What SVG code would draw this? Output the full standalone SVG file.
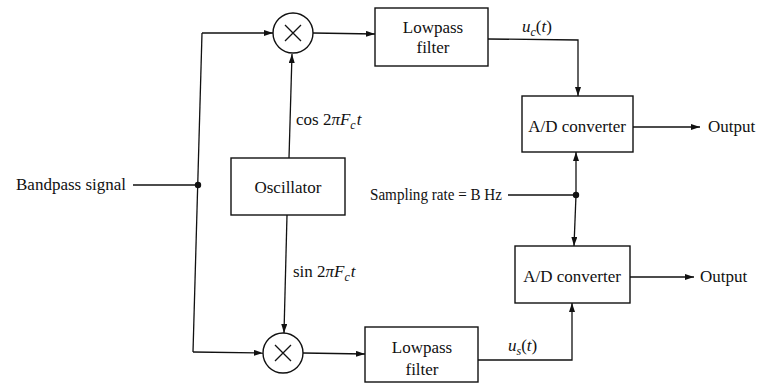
<svg xmlns="http://www.w3.org/2000/svg" width="763" height="387" viewBox="0 0 763 387">
<style>
  .bx{fill:#fff;stroke:#111;stroke-width:1.4}
  .ln{fill:none;stroke:#111;stroke-width:1.3}
  .ar{fill:none;stroke:#111;stroke-width:1.3;marker-end:url(#ah)}
  .t{font-family:"Liberation Serif","Times New Roman",serif;font-size:17px;fill:#111}
  .i{font-style:italic}
  .dot{fill:#111}
</style>
<defs>
  <marker id="ah" markerUnits="userSpaceOnUse" markerWidth="10" markerHeight="8" refX="9" refY="3" orient="auto">
    <path d="M0,0 L9,3 L0,6 z" fill="#111"/>
  </marker>
</defs>
<rect width="763" height="387" fill="#fff"/>

<g id="connectors">
  <line class="ln" x1="133" y1="185" x2="198" y2="185"/>
  <line class="ln" x1="202" y1="33" x2="193" y2="352"/>
  <line class="ar" x1="202" y1="33" x2="273" y2="33"/>
  <line class="ar" x1="193" y1="352" x2="263" y2="353"/>
  <line class="ar" x1="313" y1="33" x2="375" y2="34"/>
  <line class="ar" x1="303" y1="353" x2="365" y2="354"/>
  <line class="ar" x1="289" y1="158" x2="292" y2="54"/>
  <line class="ar" x1="287" y1="215" x2="284" y2="333"/>
  <polyline class="ar" points="488,39 578,40 578,96"/>
  <polyline class="ar" points="478,360 572,360 572,303"/>
  <line class="ar" x1="633" y1="127" x2="700" y2="127"/>
  <line class="ar" x1="630" y1="277" x2="694" y2="277"/>
  <line class="ln" x1="508" y1="195" x2="576" y2="195"/>
  <line class="ar" x1="576" y1="195" x2="576" y2="152"/>
  <line class="ar" x1="576" y1="195" x2="574" y2="246"/>
  <circle class="dot" cx="198" cy="185" r="3.2"/>
  <circle class="dot" cx="576" cy="195" r="3.2"/>
  <text class="t" x="296" y="125">cos 2<tspan class="i">πF</tspan><tspan class="i" font-size="12" dy="4">c</tspan><tspan class="i" dy="-4" dx="1">t</tspan></text>
  <text class="t" x="293" y="277">sin 2<tspan class="i">πF</tspan><tspan class="i" font-size="12" dy="4">c</tspan><tspan class="i" dy="-4" dx="1">t</tspan></text>
  <text class="t" x="522" y="32"><tspan class="i">u</tspan><tspan class="i" font-size="12" dy="4">c</tspan><tspan dy="-4">(</tspan><tspan class="i">t</tspan>)</text>
  <text class="t" x="508" y="351"><tspan class="i">u</tspan><tspan class="i" font-size="12" dy="4">s</tspan><tspan dy="-4">(</tspan><tspan class="i">t</tspan>)</text>
</g>

<g id="input">
  <text class="t" x="16" y="190">Bandpass signal</text>
</g>

<g id="mixer-top">
  <circle class="bx" cx="293" cy="33" r="20"/>
  <path class="ln" d="M285,25 L301,41 M301,25 L285,41"/>
</g>

<g id="mixer-bottom">
  <circle class="bx" cx="283" cy="353" r="20"/>
  <path class="ln" d="M275,345 L291,361 M291,345 L275,361"/>
</g>

<g id="oscillator">
  <rect class="bx" x="231" y="158" width="114" height="57"/>
  <text class="t" x="288" y="193" text-anchor="middle">Oscillator</text>
</g>

<g id="lpf-top">
  <rect class="bx" x="375" y="8" width="113" height="58"/>
  <text class="t" x="433" y="33" text-anchor="middle">Lowpass</text>
  <text class="t" x="433" y="53" text-anchor="middle">filter</text>
</g>

<g id="lpf-bottom">
  <rect class="bx" x="365" y="327" width="113" height="55"/>
  <text class="t" x="422" y="353" text-anchor="middle">Lowpass</text>
  <text class="t" x="422" y="375" text-anchor="middle">filter</text>
</g>

<g id="adc-top">
  <rect class="bx" x="522" y="96" width="111" height="56"/>
  <text class="t" x="577" y="132" text-anchor="middle">A/D converter</text>
</g>

<g id="adc-bottom">
  <rect class="bx" x="515" y="246" width="115" height="57"/>
  <text class="t" x="572" y="282" text-anchor="middle">A/D converter</text>
</g>

<g id="sampling">
  <text class="t" x="370" y="200" textLength="132" lengthAdjust="spacingAndGlyphs">Sampling rate = B Hz</text>
</g>

<g id="output-top">
  <text class="t" x="708" y="132">Output</text>
</g>

<g id="output-bottom">
  <text class="t" x="700" y="282">Output</text>
</g>
</svg>
